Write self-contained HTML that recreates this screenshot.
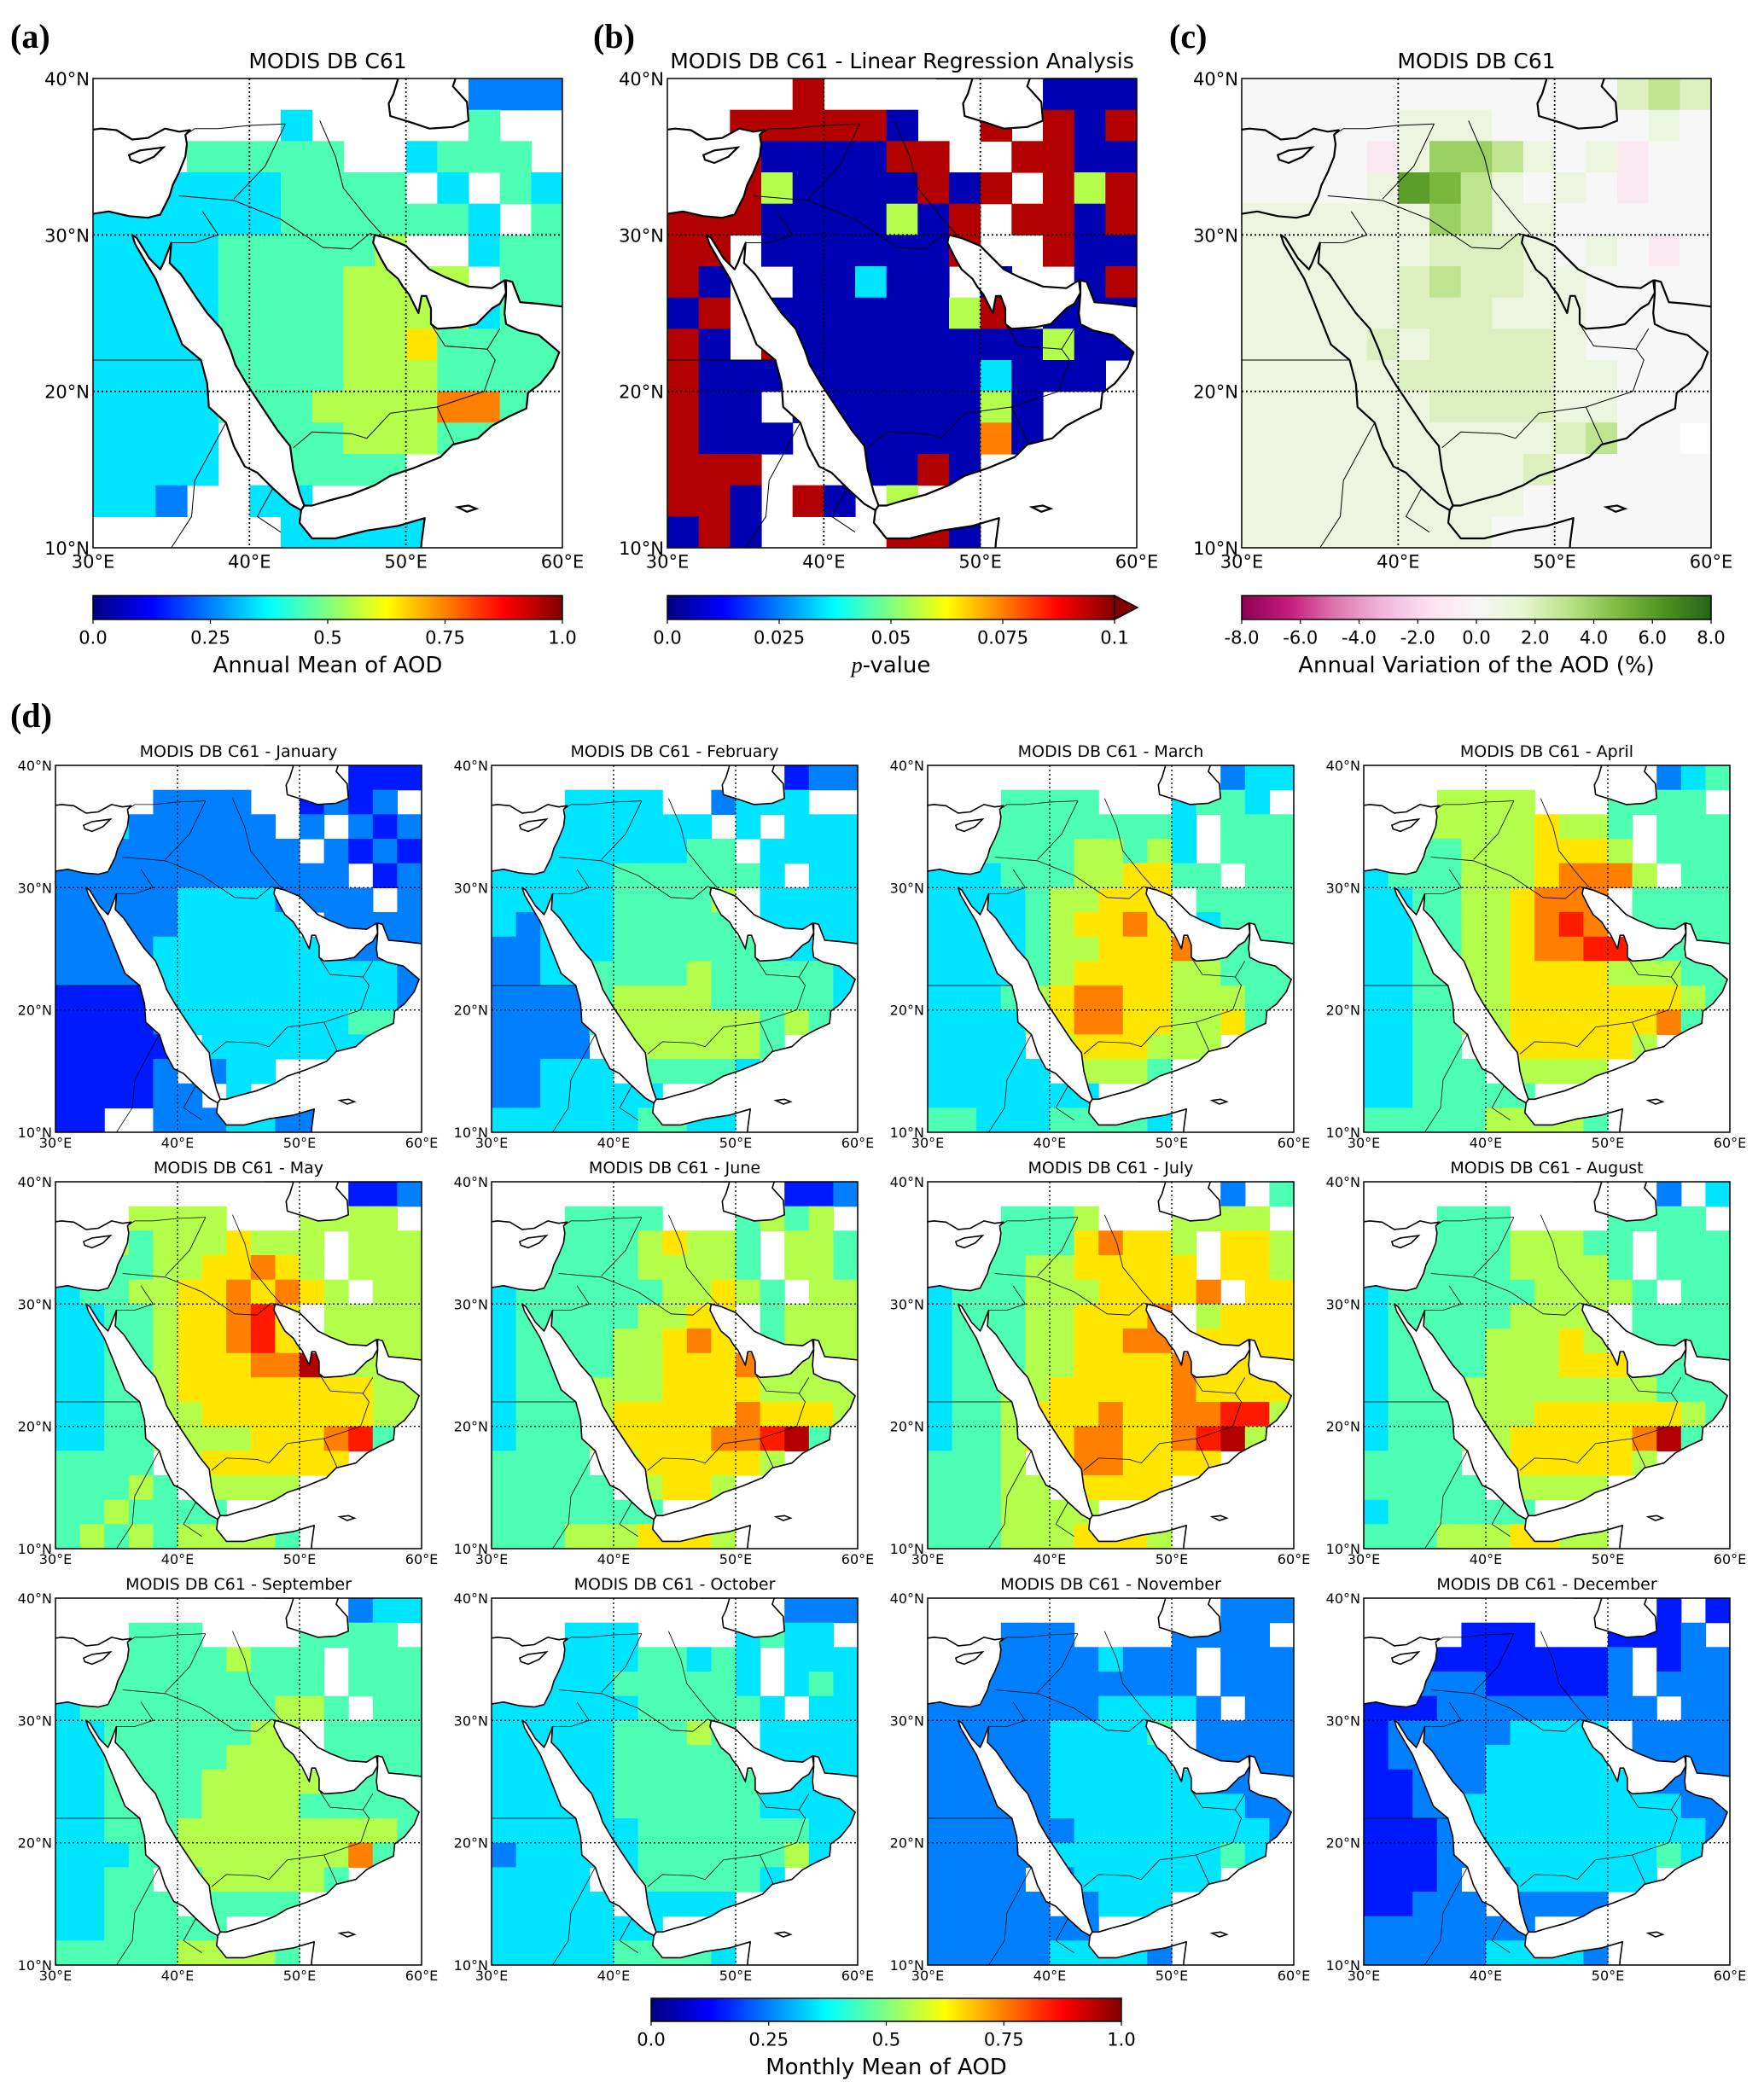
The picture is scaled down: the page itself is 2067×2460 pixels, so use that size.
<!DOCTYPE html>
<html><head><meta charset="utf-8"><title>MODIS DB C61 AOD maps</title>
<style>
html,body{margin:0;padding:0;background:#fff;}
svg{display:block;}
text{font-family:"DejaVu Sans","Liberation Sans",sans-serif;fill:#000;}
.plab{font-family:"Liberation Serif",serif;font-weight:bold;font-size:40px;}
</style></head>
<body>
<svg id="fig" xmlns="http://www.w3.org/2000/svg" width="2067" height="2460" viewBox="0 0 2067 2460">
<rect x="0" y="0" width="2067" height="2460" fill="#fff"/>
<text class="plab" x="12" y="56">(a)</text>
<text class="plab" x="695" y="56">(b)</text>
<text class="plab" x="1370" y="56">(c)</text>
<text class="plab" x="12" y="852">(d)</text>
</svg>
<script>
// ---- Data (2-degree grid, rows 40N->10N, cols 30E->60E). '.' = no data ----
const latTicks = [40, 30, 20, 10];
const latTickLabels = ["40°N", "30°N", "20°N", "10°N"];
const lonTicks = [30, 40, 50, 60];
const lonTickLabels = ["30°E", "40°E", "50°E", "60°E"];
const aodTicks = [0, 0.25, 0.5, 0.75, 1.0];
const aodTickLabels = ["0.0", "0.25", "0.5", "0.75", "1.0"];
const pTicks = [0, 0.025, 0.05, 0.075, 0.1];
const pTickLabels = ["0.0", "0.025", "0.05", "0.075", "0.1"];
const varTicks = [-8, -6, -4, -2, 0, 2, 4, 6, 8];
const varTickLabels = ["-8.0", "-6.0", "-4.0", "-2.0", "0.0", "2.0", "4.0", "6.0", "8.0"];

const annualAOD = [
"............222","......3.....4..","...44444..3444.","..33334444.3.43","3333334444443.4",
"3333444445..344","333344445555.44","333344445556344","333344445564444","333344445554444",
"33334445555774.","3333.44455544..","3333..4444.....","332..33........","......333333..."];
const pValue = [
"....9.......000","..999990..9.909","..9000099..9900","..950000909.959","9990000509.9909",
"99.0000009..900","90..00300.0..09","09.00000059.000","90.900000000500","90000000003000.",
"900.00000050...","9000.0000070...","999...0090.....","990.90.5.......","090....990....."];
const annualVar = [
"000000000000232","000001110000010","0000a1443101a00","000016531010a00","111111431100000",
"1111112221010a0","111112322110000","111112221110000","111121222210000","111112222211000",
"111111222211000","11111111112300","111111111200000","111111111000000","111111110000000"];
const janAOD = [
"............111","....2222..1212.","..3222222.2.212","..22222222.2121","222222222222.12",
"2222233332222.2","2222233333.2222","222233333332222","222233333333332","111133333333332",
"111123333333442","11111.3333333..","11112.233......","111122.3.......","11..2223322...."];
const febAOD = [
"............122","...3333..2333..","..3333333.3.333","..33333344.3333","333334444443.33",
"3333344445.3333","3233344444.3333","223334444443333","223344445444443","222245555444443",
"222245555554543","2222.5555554...","22333.44443....","2233333........","3333334433....."];
const marAOD = [
"............233","...4444...3443.","..444444443.444","..444455453.444","333444556644.44",
"3333455666.4444","3333456676.3444","333345566674444","333345666655444","333456776655544",
"33335677665564.","3333.5666555...","33333.5554.....","3333333........","4433344443....."];
const aprAOD = [
"............234","...5555...4444.","..555556554.444","..445556665.444","344455567775.44",
"3344556777.4444","3344556787.4444","334455677884444","334455666655544","334455666666654",
"33445566666674.","3344.5666665...","33444.5555.....","3344444........","4444455554....."];
const mayAOD = [
"............112","...5555...5555.","..545556555.555","..445566765.555","344556676765.55",
"3344566786.5555","3344566786.5555","334456667795555","334456666666655","334455666666655",
"33445555666784.","4444.5666666...","44454.5555.....","4454444........","4545455554....."];
const junAOD = [
"............112","...4444...4545.","..444456554.554","..444455554.554","344444455654.55",
"3444445566.4555","3444455676.4555","344445566674555","344455566665555","344456666676665",
"34445666677894.","4444.5666665...","44444.5665.....","4444444........","4445556665....."];
const julAOD = [
"............2.4","...4445...5555.","..444467665.665","..445566666.665","344455566667.66",
"3444556667.5666","3444556677.6666","344455666676666","344556666676666","344566676677885",
"34456677667895.","4445.6776666...","44455.6666.....","4445555........","4445556665....."];
const augAOD = [
"............2.3","...444....4444.","..444455544.444","..444455554.444","344444455554.44",
"3444445555.4444","3444455565.4444","344445556664444","344455555555444","344455566666654",
"34445566666794.","4444.5666665...","44444.5555.....","3444444........","4445556655....."];
const sepAOD = [
"............233","...444....4444.","..444445444.444","..444444444.444","344444444554.44",
"3344444455.4444","3344444555.4444","334444555554444","334444555544444","334445555555554",
"33344555555574.","3344.4555554...","33444.4444.....","3344444........","4444455554....."];
const octAOD = [
"............222","...333....3433.","..333344343.333","..333444443.343","333333444443.33",
"3333344454.3333","3333344444.3333","333334444443333","333334444443333","333333444444433",
"23333344444453.","3333.3444443...","33333.3333.....","3333333........","3333344443....."];
const novAOD = [
"............222","...222....2222.","..222223222.222","..222222222.222","222222233332.22",
"2222233334.2222","2222233333.2222","222223333332222","222223333333322","222222333333332",
"22222333333343.","2222.2333333...","22222.2333.....","2222222........","2222233332....."];
const decAOD = [
"............1.1","....111...1112.","..111111112.122","..222111112.222","111222222222.22",
"1222223333.2222","1222233333.2222","112223333332222","112233333333322","111233333333332",
"11122333333343.","1112.2333333...","11222.2222.....","2222222........","2222233332....."];
const monthNames = ["January","February","March","April","May","June","July","August","September","October","November","December"];

// ---- geography (lon, lat) ----
const redSea = [[32.5,30.0],[32.7,29.4],[33.4,28.2],[34.0,27.2],[34.5,26.0],[35.1,24.5],[35.7,23.0],[36.9,22.0],[37.3,20.5],[37.4,19.0],[38.5,18.0],[39.0,16.5],[39.7,15.2],[40.5,14.8],[41.5,13.8],[42.6,12.8],[43.3,12.4],[43.5,12.7],[43.2,13.5],[42.8,15.0],[42.6,16.5],[41.8,17.5],[40.8,19.0],[39.8,20.5],[39.1,21.7],[38.8,22.6],[38.2,24.0],[37.3,25.0],[36.6,26.0],[35.6,27.5],[34.9,28.2],[35.0,29.5],[34.5,28.2],[34.3,27.8],[33.6,28.5],[32.8,29.8]];
const persianGulf = [[48.0,30.0],[48.8,29.8],[50.0,29.3],[50.8,28.5],[51.5,27.8],[52.5,27.3],[54.0,26.7],[55.5,26.6],[56.3,27.1],[56.4,26.3],[56.0,25.6],[55.5,25.3],[54.5,24.3],[53.5,24.1],[52.0,24.0],[51.6,24.3],[51.6,25.3],[51.3,26.1],[51.0,26.1],[50.8,25.0],[50.5,25.6],[50.2,26.2],[49.8,26.7],[49.5,27.2],[48.8,27.8],[48.4,28.5],[47.9,29.5]];
const arabianSea = [[56.4,26.2],[56.3,25.0],[56.4,24.3],[57.2,23.9],[58.5,23.6],[59.8,22.5],[59.4,21.5],[58.6,20.5],[57.8,19.9],[57.7,18.9],[56.6,18.4],[55.5,17.8],[54.6,17.0],[53.0,16.6],[52.2,15.8],[50.5,15.1],[49.0,14.6],[48.0,14.0],[46.5,13.4],[45.0,13.0],[44.0,12.7],[43.5,12.7],[43.3,12.4],[43.2,11.6],[44.0,10.6],[45.5,10.6],[47.5,11.1],[49.5,11.4],[51.2,11.9],[51.0,10.4],[50.9,9.0],[61,9],[61,25.3],[58.5,25.6],[57.3,25.7],[56.8,27.0],[56.4,27.1]];
const mediterranean = [[29,31.2],[31,31.5],[32.3,31.2],[33.5,31.1],[34.3,31.3],[34.9,32.5],[35.1,33.2],[35.5,34.0],[35.9,35.0],[36.0,35.8],[35.9,36.4],[36.2,36.7],[35.5,36.6],[34.6,36.8],[33.5,36.2],[32.5,36.1],[31.5,36.7],[30.5,36.8],[29,36.6]];
const caspian = [[47,41],[47.2,40],[49.5,40],[49.2,39],[48.9,38.4],[49.0,37.6],[50.3,37.2],[51.5,36.8],[53.0,36.9],[54,37.3],[53.9,38.5],[53.0,39.5],[53.5,41]];
const cyprus = [[32.3,35.1],[33.0,35.4],[34.5,35.6],[33.9,35.0],[33.0,34.6],[32.4,34.8]];
const socotra = [[53.3,12.6],[54.0,12.7],[54.5,12.5],[53.9,12.3]];
const borders = [
[[30,22],[36.9,22]],
[[42.8,16.4],[44,17.4],[46.5,17.3],[47.5,17.0],[49,18.6],[52,19.0]],
[[52,19],[53.1,16.6]],
[[52,19],[55,20],[55.7,22],[55.2,22.7]],
[[51.6,24.3],[52.5,22.9],[55.2,22.7],[56,24]],
[[46.5,29.1],[47.7,30.1],[48.4,29.9]],
[[39,32.2],[42,31],[44.7,29.2],[46.5,29.1]],
[[35.5,32.5],[39,32.2]],
[[37,31.5],[38,30],[36.5,29.5],[35,29.5]],
[[39,32.3],[41,34.4],[42.3,37.1]],
[[48.5,30],[47.6,31],[46,33],[45.5,35],[44.5,37.3]],
[[35.9,36.4],[36.5,36.8],[38,36.8],[40,37],[42.3,37.1]],
[[38.5,18],[36.5,14.3],[36.3,12],[35,10]],
[[41.5,13.8],[40.5,12],[42,11]]];

// ---- helpers ----
const SVGNS = "http://www.w3.org/2000/svg";
const fig = document.getElementById("fig");
function mk(tag, attrs, parent) {
  const e = document.createElementNS(SVGNS, tag);
  for (const k in attrs) e.setAttribute(k, attrs[k]);
  (parent || fig).appendChild(e);
  return e;
}
function clamp(v){return Math.max(0, Math.min(1, v));}
function jet(v){
  const r = clamp(1.5 - Math.abs(4*v - 3)), g = clamp(1.5 - Math.abs(4*v - 2)), b = clamp(1.5 - Math.abs(4*v - 1));
  return "rgb(" + Math.round(r*255) + "," + Math.round(g*255) + "," + Math.round(b*255) + ")";
}
const piyg = ["#8e0152","#c51b7d","#de77ae","#f1b6da","#fde0ef","#f7f7f7","#e6f5d0","#b8e186","#7fbc41","#4d9221","#276419"];
function hex(h){return [parseInt(h.substr(1,2),16),parseInt(h.substr(3,2),16),parseInt(h.substr(5,2),16)];}
function piygCol(v){
  let t = clamp((v + 8) / 16) * 10; let i = Math.min(9, Math.floor(t)); let f = t - i;
  const a = hex(piyg[i]), b = hex(piyg[i+1]);
  return "rgb(" + a.map((x,k)=>Math.round(x + (b[k]-x)*f)).join(",") + ")";
}
function decode(kind, c){
  if (c === ".") return null;
  if (kind === "var") {
    if (c >= "a" && c <= "h") return -(c.charCodeAt(0) - 96);
    return +c;
  }
  const d = +c;
  if (kind === "p") return (d + 0.5) / 10 * 0.1;
  return (d + 0.5) / 10;
}
function colorFor(kind, v){
  if (kind === "var") return piygCol(v);
  if (kind === "p") return jet(v / 0.1);
  return jet(v);
}

function drawMap(cfg){
  const {left, top, w, h, grid, kind, title, fs, tfs} = cfg;
  const X = lon => left + (lon - 30) / 30 * w;
  const Y = lat => top + (40 - lat) / 30 * h;
  const g = mk("g", {});
  
  
  const cid = "clip-" + cfg.name;
  const cp = mk("clipPath", {id: cid}, g);
  mk("rect", {x: left, y: top, width: w, height: h}, cp);
  const inner = mk("g", {"clip-path": "url(#" + cid + ")"}, g);
  const cw = w / 15, ch = h / 15;
  for (let i = 0; i < grid.length; i++) {
    for (let j = 0; j < 15; j++) {
      const v = decode(kind, grid[i][j] || ".");
      if (v === null) continue;
      const r = mk("rect", {x: X(30 + 2*j).toFixed(1), y: Y(40 - 2*i).toFixed(1), width: (cw + 0.6).toFixed(1), height: (ch + 0.6).toFixed(1), fill: colorFor(kind, v)}, inner);
      
      
    }
  }
  const pts = poly => poly.map(p => X(p[0]).toFixed(1) + "," + Y(p[1]).toFixed(1)).join(" ");
  const seaFill = kind === "var" ? "none" : "#fff";
  const cs = cfg.big ? 2.2 : 1.6;
  [redSea, persianGulf, arabianSea, mediterranean, caspian].forEach(poly => {
    const s = mk("polygon", {points: pts(poly), fill: seaFill, stroke: "#000", "stroke-width": cs, "stroke-linejoin": "round"}, inner);
    
    
  });
  [cyprus, socotra].forEach(poly => {
    const s = mk("polygon", {points: pts(poly), fill: "none", stroke: "#000", "stroke-width": cs}, inner);
    
    
  });
  borders.forEach(b => {
    const s = mk("polyline", {points: pts(b), fill: "none", stroke: "#000", "stroke-width": cfg.big ? 1 : 0.8}, inner);
    
    
  });
  [40, 50].forEach(lon => {
    const l = mk("line", {x1: X(lon), x2: X(lon), y1: top, y2: top + h, stroke: "#000", "stroke-width": cfg.big ? 1.8 : 1.3, "stroke-dasharray": "2,3"}, inner);
    
    
  });
  [30, 20].forEach(lat => {
    const l = mk("line", {x1: left, x2: left + w, y1: Y(lat), y2: Y(lat), stroke: "#000", "stroke-width": cfg.big ? 1.8 : 1.3, "stroke-dasharray": "2,3"}, inner);
    
    
  });
  const frame = mk("rect", {x: left, y: top, width: w, height: h, fill: "none", stroke: "#000", "stroke-width": 1.5}, g);
  
  
  latTicks.forEach((lat, k) => {
    const t = mk("text", {x: left - 4, y: Y(lat) + fs*0.38, "text-anchor": "end", "font-size": fs}, g);
    t.textContent = latTickLabels[k];
    
    
  });
  lonTicks.forEach((lon, k) => {
    const t = mk("text", {x: X(lon), y: top + h + fs*1.12, "text-anchor": "middle", "font-size": fs}, g);
    t.textContent = lonTickLabels[k];
    
    
  });
  const tt = mk("text", {x: left + w/2, y: top - (cfg.big ? 12 : 10), "text-anchor": "middle", "font-size": tfs}, g);
  tt.textContent = title;
  
  
}

let gradCount = 0;
function drawColorbar(cfg){
  const {left, top, w, h, kind, ticks, labels, vmin, vmax, label, fs, lfs, arrow} = cfg;
  const g = mk("g", {});
  
  
  const defs = mk("defs", {}, g);
  const gid = "grad" + (gradCount++);
  const lg = mk("linearGradient", {id: gid, x1: "0", x2: "1", y1: "0", y2: "0"}, defs);
  for (let k = 0; k <= 40; k++) {
    const t = k / 40; const v = vmin + t * (vmax - vmin);
    mk("stop", {offset: t, "stop-color": kind === "var" ? piygCol(v) : jet(t)}, lg);
  }
  const bar = mk("rect", {x: left, y: top, width: w, height: h, fill: "url(#" + gid + ")", stroke: "#000", "stroke-width": 1.5}, g);
  
  
  if (arrow) {
    const a = mk("polygon", {points: (left+w) + "," + top + " " + (left+w+27) + "," + (top+h/2) + " " + (left+w) + "," + (top+h), fill: jet(1), stroke: "#000", "stroke-width": 1.5}, g);
    
    
  }
  ticks.forEach((v, k) => {
    const x = left + (v - vmin) / (vmax - vmin) * w;
    mk("line", {x1: x, x2: x, y1: top + h, y2: top + h + 5, stroke: "#000", "stroke-width": 1.2}, g);
    const t = mk("text", {x: x, y: top + h + fs*1.35, "text-anchor": "middle", "font-size": fs}, g);
    t.textContent = labels[k];
    
    
  });
  const lt = mk("text", {x: left + w/2, y: top + h + fs*1.35 + lfs*1.3, "text-anchor": "middle", "font-size": lfs}, g);
  if (label === "p-value") {
    const s1 = mk("tspan", {"font-style": "italic", "font-family": "Liberation Serif, serif"}, lt); s1.textContent = "p";
    const s2 = mk("tspan", {}, lt); s2.textContent = "-value";
  } else lt.textContent = label;
  
  
}

// ---- top row ----
const TOP = {top: 92, w: 550, h: 550, fs: 21, tfs: 25, big: true};
drawMap(Object.assign({}, TOP, {name: "map-annual-mean", left: 109, grid: annualAOD, kind: "aod", title: "MODIS DB C61"}));
drawMap(Object.assign({}, TOP, {name: "map-p-value", left: 782, grid: pValue, kind: "p", title: "MODIS DB C61 - Linear Regression Analysis"}));
drawMap(Object.assign({}, TOP, {name: "map-annual-variation", left: 1455, grid: annualVar, kind: "var", title: "MODIS DB C61"}));
drawColorbar({name: "colorbar-annual-mean", left: 109, top: 698, w: 550, h: 28, kind: "aod", ticks: aodTicks, labels: aodTickLabels, vmin: 0, vmax: 1, label: "Annual Mean of AOD", fs: 21, lfs: 26});
drawColorbar({name: "colorbar-p-value", left: 782, top: 698, w: 524, h: 28, kind: "p", ticks: pTicks, labels: pTickLabels, vmin: 0, vmax: 0.1, label: "p-value", fs: 21, lfs: 26, arrow: true});
drawColorbar({name: "colorbar-annual-variation", left: 1455, top: 698, w: 550, h: 28, kind: "var", ticks: varTicks, labels: varTickLabels, vmin: -8, vmax: 8, label: "Annual Variation of the AOD (%)", fs: 21, lfs: 26});

// ---- monthly panels ----
const monthly = [janAOD, febAOD, marAOD, aprAOD, mayAOD, junAOD, julAOD, augAOD, sepAOD, octAOD, novAOD, decAOD];
const colLeft = [65, 576, 1087, 1598];
const rowTop = [897, 1385, 1873];
monthly.forEach((grid, m) => {
  drawMap({name: "map-" + monthNames[m].toLowerCase(), left: colLeft[m % 4], top: rowTop[Math.floor(m / 4)], w: 429, h: 430, grid: grid, kind: "aod", title: "MODIS DB C61 - " + monthNames[m], fs: 16, tfs: 19, big: false});
});
drawColorbar({name: "colorbar-monthly-mean", left: 763, top: 2342, w: 551, h: 27, kind: "aod", ticks: aodTicks, labels: aodTickLabels, vmin: 0, vmax: 1, label: "Monthly Mean of AOD", fs: 21, lfs: 26});
</script>
</body></html>
